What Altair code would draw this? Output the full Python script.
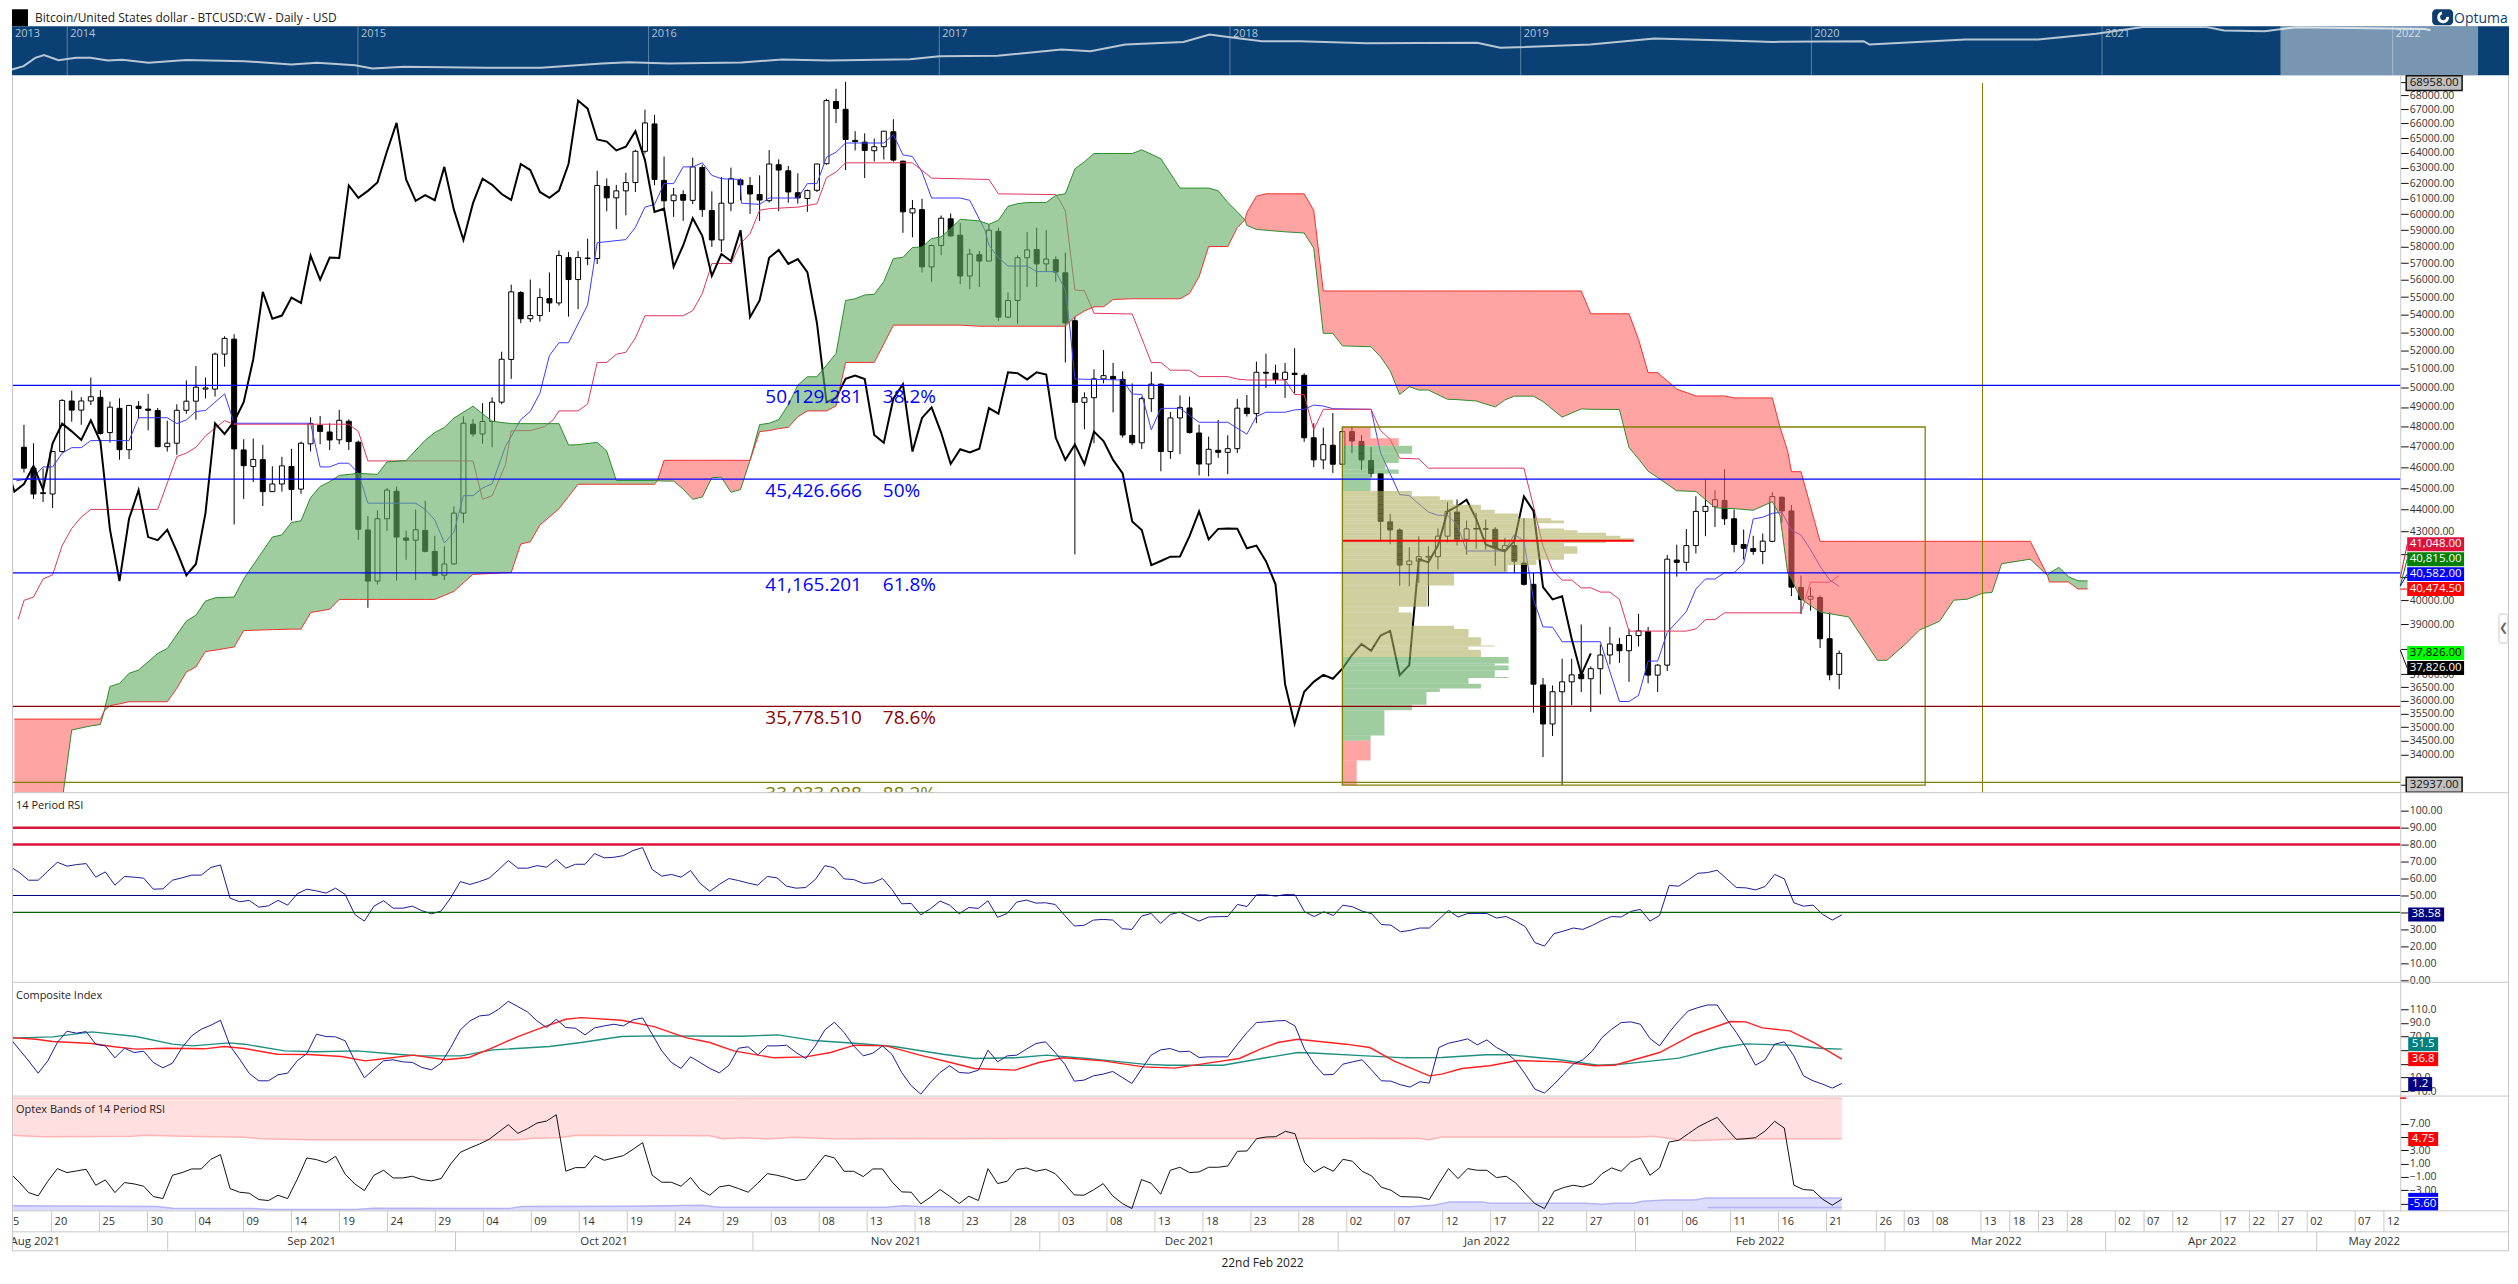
import altair as alt
import pandas as pd

FONT = "Open Sans"
ohlc_aug = [(46970,48090,45740,45950),(45950,47170,44490,44720),(44740,45930,44340,44780),(44720,46760,44060,46760),
(46760,49400,46700,49340),(49310,49850,48250,48840),(48840,49510,48090,49310),(49310,50540,49100,49530),
(49500,49880,47600,47660),(47700,49280,47200,48990),(48930,49450,46360,46850),(46850,49100,46390,49080),
(49040,49300,48420,48920),(48890,49680,47810,48830),(48820,48950,46970,47000),(47000,48300,46760,47170)]
ohlc_sep = [(47170,49140,46600,48830),(48830,50390,48650,49300),(49300,51150,48350,50030),(49930,50540,49440,49990),
(49930,51880,49540,51800),(51800,52780,51120,52660),(52620,52890,43310,46890),(46840,47370,44490,46070),
(46030,47400,45290,46370),(46360,47090,44160,44830),(44830,46040,44830,45190),(45190,46500,44830,46060),
(46030,46890,43490,44930),(44950,47250,44730,47170),(47140,48470,46760,48150),(48060,48540,47120,47760),
(47730,48170,46830,47330),(47340,48850,47120,48320),(48270,48370,46830,47250),(47220,47300,42620,43090),
(43060,43690,39680,40810),(40810,43960,40660,43570),(43570,45000,43020,44900),(44850,45070,40830,42740),
(42700,43030,41730,42600),(42600,44000,40850,43070),(43040,44400,42060,42100),(42100,42800,41020,41060),
(41060,42330,40850,41550),(41550,44140,41520,43830)]
ohlc_oct = [(43830,48520,43380,48170),(48120,48380,47500,47630),(47630,49200,47140,48260),(48260,49500,46970,49250),
(49250,51930,49140,51520),(51510,55720,50470,55300),(55260,55340,53510,53760),(53760,56020,53570,53940),
(53940,55500,53600,54970),(54910,56440,54150,54660),(54660,57760,54500,57450),(57330,57660,53880,56020),
(56020,57720,54310,57330),(57270,58480,56870,57300),(57270,62800,56940,61840),(61780,62300,60190,61040),
(61040,61880,59070,61490),(61490,62670,59930,62030),(62030,64200,61420,64100),(64100,66970,63940,66040),
(65970,66600,61860,62230),(62170,63750,60350,60850),(60860,61680,59830,61220),(61250,61530,59580,60890),
(60880,63670,60640,63060),(63020,63200,59830,60290),(60230,61460,57970,58400),(58400,62390,57670,60700),
(60700,63010,60190,62280),(62200,62300,60880,61880),(61840,62390,60020,61290)]
ohlc_nov = [(61250,62500,59580,60900),(60860,64180,60740,63250),(63200,63560,60190,62850),(62800,63120,60730,61420),
(61370,62640,60670,61040),(61000,61570,60150,61510),(61530,63270,61420,63250),(63270,67730,63210,67610),
(67540,68450,66030,67040),(66990,68958,62850,64900),(64840,65470,64160,64760),(64720,65320,62320,64160),
(64140,64960,63420,64410),(64410,65470,63550,65470),(65430,66300,63400,63510),(63440,63470,58840,60150),
(60080,60900,58560,60350),(60290,60980,56440,56770),(56770,58120,55890,58060),(58060,59920,57470,59750),
(59710,60050,58600,58650),(58690,59450,55750,56230),(56230,57860,55460,57540),(57500,57730,55580,57120),
(57120,59370,57120,59000),(58930,59150,53630,53850),(53850,55270,53790,54800),(54800,57460,53490,57320),
(57320,58890,55580,57790),(57810,59150,55580,56950)]
ohlc_dec = [(56950,59000,56460,57240),(57200,57400,55890,56460),(56420,57630,51350,53520),(53650,53870,41970,49240),
(49240,49760,47870,49480),(49480,50980,47170,50470),(50470,52020,50230,50640),(50600,51320,48720,50460),
(50440,50870,47450,47580),(47560,50230,47070,47190),(47190,49520,46890,49430),(49430,50850,48750,50190),
(50190,50230,45800,46760),(46760,48740,46400,48440),(48440,49600,46630,48980),(48950,49540,47650,47700),
(47680,48100,45600,46150),(46150,47500,45560,46870),(46820,48340,46450,46720),(46720,47570,45660,46900),
(46900,49420,46690,48940),(48940,49620,48510,48660),(48660,51390,48170,50820),(50820,51820,49980,50770),
(50770,51220,50200,50440),(50440,51320,49470,50820),(50770,52120,49700,50700),(50660,50770,47240,47440),
(47440,48170,46000,46350),(46350,47950,45900,47100),(47070,48690,45720,46140)]
ohlc_jan = [(46140,47970,46110,47750),(47750,48000,46670,47280),(47260,47580,45870,46350),(46320,46980,45500,45700),
(45690,45720,42520,43450),(43430,43800,42420,43060),(43060,43130,40610,41500),(41520,42290,40590,41680),
(41670,42780,40730,41870),(41850,42330,39740,41880),(41870,43130,41310,42780),(42780,44340,42500,43910),
(43880,44460,42360,42640),(42640,43490,41960,43110),(43100,43840,42210,43130),(43090,43530,42180,43120),
(43090,43190,41480,42240),(42180,42700,41230,42360),(42360,42780,41170,41670),(41590,43600,40620,40670),
(40670,41170,35540,36620),(36590,36860,33920,35120),(35120,36570,34680,36330),(36330,37610,32937,36710),
(36710,37610,35820,36980),(37010,38990,36320,36830),(36830,37310,35570,37220),(37220,38180,36230,37760),
(37760,38890,37390,38200),(38180,38450,37450,37930),(37930,38800,36710,38540)]
ohlc_feb = [(38540,39430,38100,38730),(38700,38890,36650,36970),(36970,37400,36320,37360),(37360,41950,37130,41760),
(41720,42400,41000,41620),(41620,43100,41250,42360),(42360,44610,42010,43910),(43910,45400,42780,44140),
(44140,44900,43200,44450),(44420,45900,43290,43570),(43570,44000,42060,42410),(42410,43080,41750,42240),
(42230,42800,41950,42100),(42100,42900,41540,42560),(42550,44800,42510,44600),(44570,44600,43380,43930),
(43930,44210,40170,40550),(40540,41050,39420,40030),(40040,40540,39560,40160),(40110,40200,38040,38410),
(38410,39500,36770,36980),(37000,37940,36430,37826)]

tenkan_bar = [-0.8,0.9,2,3,4,5,6,7,11,12,15,16,17,18,19,21,22,30,31,32,33,34,35,36,41,42,43,44,45,46,47,48,49,50.4,
52,53,54,55,56,57,59,60,63,64,65,66,67,68,69,70,71,72,73,75,75.1,77,78,81,82,83,84,85,86,90,91,92,93,94,95,98,99,
100.6,101,102,103,105,106,108,109,109.5,110,115,116,117,118,119,121,123,126,128,129,130,132,133,134,135,136,137,141,
142,144,145,147,148,149,150,151,155,156,157,158,159,160,161,165,167,168,169,170,171,172,173,174,175,176,177,178,179,
180,181,182,183,184,185,186,187,188,189,190]
tenkan_val = [45340,45480,46010,46010,46680,46950,46950,47300,47300,48450,48450,48150,48340,48770,48820,49680,48170,
48170,46010,46010,46190,46190,45710,44290,44290,44000,43520,42480,42950,44640,44640,45000,45200,47010,
48350,48770,49710,51720,52420,52420,54550,58230,58420,59180,60450,60620,61960,61960,63060,63060,63330,62500,62280,
62230,60700,60620,61030,61030,61960,61960,63700,64040,64660,64660,65230,63860,63750,62720,61030,61030,60880,
58990,58080,57330,56820,56820,56490,56490,55410,53130,50460,50410,49670,49650,47840,48930,48930,48220,48220,47620,
48510,48730,48730,48850,48880,49100,49050,48910,48880,46690,44690,44640,43880,43730,43730,43310,42120,42120,42860,
42560,40030,38890,38880,38290,38290,35960,35960,36190,37520,37520,38660,39090,39520,40470,40900,40900,41170,41170,
41570,43560,43640,43820,43870,43050,42830,42180,41450,40860,40582]
kijun_bar = [-0.6,0,1,2,3,4,5,6,7,14,15,16,17,18,19,20,21,22,34,35,36,47,48,49,50.4,51,53,54.5,55.4,56,58,59,60,61,62,
63,64,65,69,70,71,72,74,75,76,77,78,81,83,84,85,86,93,94,95,101,102,108,108.4,109,110,111,112,116,118,119,120,122,123,
126,127,128,132,133,134,135,136,141,142,143,144,146,147,157,158,159,160,161,162,163,164,165,166,167,168,174,175,176,
177,178,186,187,189,190]
kijun_val = [39200,39990,40130,40900,41080,42360,43130,43650,44000,44000,45240,46510,46680,46970,47530,47920,48300,
48120,48120,47760,46300,46300,44470,44640,46110,47790,47800,48000,48350,48800,48800,49150,51350,51350,51790,
51900,52680,53930,53930,54220,55200,56970,56970,58180,58790,60250,60350,60450,60660,62350,62720,63330,63330,62830,
62320,62230,61300,61250,60880,60210,55410,55370,54070,54030,51340,51340,50930,50930,50590,50590,50460,50410,50410,
49650,49630,47840,48880,48880,47800,47360,46430,46400,45950,45950,44150,42330,41280,40850,40850,40520,40520,40340,
40340,40030,38720,38720,38810,39190,39190,39470,39470,40760,40760,41048]

kumo_bar = [-1,4,5,7,8,8.4,9,10,11,12,14,15,16,17,18,19,20,22,23,26,27,28,29,30,31,32,33,35,37,38,40,42,43,44,45,47,49,51,52,53,54,56,57,58,60,61,62,66,66.3,
67,68,69,70,71,72,73,74,75,76,77,78,79,80,81,82,83,84,85,86,87,88,89,90,91,92,93,94,95,96,97,98,100,101,102,103,104,105,107,108,109,110,111,112,113,114,116,117,119,121,122,123,124,125,126,127,127.8,
128,129,130,132,134,135,136,137,138,141,142,143,144,145,146,147,149,150,152,154,155,156,158,159,161,163,164,167,168,169,170,171,173,175,177,178,179,181,183,183.8,184.6,185,186,188,191,194,195,197,198.4,200.5,202,203.4,205,206,207,210,211.8,
212,213,214,215,216]
span_a = [31000,32400,34900,35050,35100,35600,36530,36650,37040,37170,37820,38020,38570,39130,39370,39960,40100,40130,40900,42740,42840,43400,43480,44550,45070,45300,45600,45700,45650,46250,46320,47320,47700,47960,48430,49040,48270,48150,48150,48150,48150,48150,47080,47100,47210,46780,45360,45360,45350,
45330,45330,44950,44470,44580,45490,45520,44800,44930,46330,48100,48170,48350,49110,50130,50580,50580,51200,51830,54800,54900,55120,55160,55900,57270,57340,57940,57960,58480,58590,59100,59680,59580,59370,59620,60500,60670,60740,60740,61200,61300,62930,63400,63950,63950,63950,63950,64200,63600,61670,61670,61670,61670,61500,60750,60150,59650,
59300,59050,59000,58900,58830,57900,52940,52940,52250,52200,51650,50900,49650,50050,49880,49880,49400,49380,49310,49000,49360,49560,49560,49280,48480,48900,48880,48870,46960,46400,45800,45500,44870,44840,44080,44050,44040,43960,44360,43730,41180,40900,40050,39500,39300,37550,37550,38220,38760,39120,40000,40040,40290,40330,41560,41760,41050,
41150,41400,41000,40820,40815]
span_b = [35300,35300,35300,35300,35300,35600,35800,35870,35950,35950,35950,35950,36460,37090,37290,37900,37950,38080,38740,38780,38790,38800,38800,39480,39550,39620,40030,40030,40030,40030,40030,40030,40030,40200,40370,41100,41140,41180,42430,42530,43280,44030,44600,45180,45180,45180,45180,45180,45350,
46330,46330,46330,46330,46330,46330,46330,46330,46330,46330,47750,47800,47900,47960,48500,48800,48800,48800,49050,51350,51350,51350,51350,52350,53400,53400,53400,53400,53400,53400,53400,53400,53340,53340,53340,53340,53340,53340,53340,53340,53340,53870,54200,54440,54440,54860,54900,54900,54900,54900,55210,56190,58000,58000,58000,59160,59650,
60100,61150,61300,61300,61300,60250,55350,55350,55350,55350,55350,55350,55350,55350,55350,55350,55350,55350,55350,55350,55350,55350,55350,55350,55350,55350,54040,54040,54040,52600,50800,50800,49930,49570,49570,49570,49470,49470,49470,47970,46800,45780,45780,42550,42550,42550,42550,42550,42550,42550,42550,42550,42550,42550,42550,42550,41050,
40770,40770,40770,40470,40474.5]

vp_top = [47980,47420,47050,46650,46200,45890,45680,44860,44610,44450,44220,43980,43810,43590,43490,43360,43130,43050,42930,42800,42690,42590,42470,42330,42000,41930,41730,41510,41180,40620,40170,39720,39480,38940,38810,38470,38140,38100,37970,37680,37420,37350,37160,36900,36860,36640,36450,36320,35840,35630,34700,34510,33800]
vp_bot = [47420,47050,46650,46200,45890,45680,44860,44610,44450,44220,43980,43810,43590,43490,43360,43130,43050,42930,42800,42690,42590,42470,42330,42000,41930,41730,41510,41180,40620,40170,39720,39480,38940,38810,38470,38140,38100,37970,37680,37420,37350,37160,36900,36860,36640,36450,36320,35840,35630,34700,34510,33800,32937]
vp_vol = [2.95,5.9,7.3,5.9,4.5,5.9,2.95,7.28,10.2,11.6,14.5,15.95,18.4,21.85,23.2,20.3,23.2,24.6,27.6,29.1,30.5,27.6,23.2,24.6,23.2,23.2,20.3,17.3,11.7,8.85,8.85,5.9,7.28,11.7,13.2,14.5,15.95,13.2,14.5,17.4,15.95,17.4,15.95,17.4,13.2,14.5,10.2,8.8,7.3,4.4,2.95,2.95,1.5]
vp_kind = ["r"]*2 + ["g"]*5 + ["t"]*32 + ["g"]*12 + ["r"]*2

fib_price = [50129.281,45426.666,41165.201,35778.510,33033.088]
fib_value = ["50,129.281","45,426.666","41,165.201","35,778.510","33,033.088"]
fib_pct = ["38.2%","50%","61.8%","78.6%","88.2%"]
fib_color = ["#0000ff","#0000ff","#0000ff","#8b0000","#808000"]

rsi_values = [67.3,63.7,59.0,59.0,64.3,69.6,67.3,68.2,68.8,60.8,63.9,56.1,61.2,60.8,60.2,53.7,53.9,59.0,60.4,62.0,62.0,66.5,68.0,48.4,46.3,47.1,43.1,43.9,47.1,44.3,51.0,53.7,52.7,51.4,54.3,50.6,38.8,34.9,43.7,46.9,42.5,42.5,43.7,41.0,39.2,40.8,48.6,58.2,56.5,58.2,60.2,65.3,70.6,66.1,66.1,67.6,66.7,71.2,66.1,68.4,68.4,74.7,72.2,72.5,73.5,76.5,78.2,65.3,61.4,62.4,60.8,64.7,57.1,52.5,56.5,60.0,58.8,57.3,56.1,61.2,60.4,55.5,54.3,54.7,59.4,67.6,66.3,59.8,59.4,57.1,57.5,60.0,53.5,45.1,45.3,38.6,42.2,46.7,44.3,39.2,42.9,42.4,46.9,37.1,39.4,46.1,47.3,45.5,45.7,44.7,38.2,32.0,32.4,35.5,35.9,35.5,30.4,30.0,37.8,39.4,33.5,38.8,40.2,37.5,34.9,37.3,37.5,37.6,44.7,43.5,50.4,
50.4,49.6,50.6,50.4,40.4,37.6,40.4,38.2,44.3,43.3,40.8,39.2,32.9,32.5,28.6,29.4,30.8,30.8,35.9,41.2,37.3,39.4,39.4,39.4,36.7,37.6,34.9,31.6,22.2,20.2,27.5,29.0,30.8,30.0,32.4,35.3,37.6,37.3,40.6,41.8,34.9,38.2,55.9,55.5,59.2,63.1,63.5,64.9,59.8,54.7,54.5,53.3,55.3,62.4,59.8,45.7,43.7,44.3,38.8,35.5,38.58]
comp_values = [68.5,51.5,34.4,16.3,34.4,61.2,77.8,74.9,77.3,58.8,56.3,38.8,52.9,46.6,48.5,32.0,24.1,31.0,53.9,71.0,80.7,86.6,93.9,56.3,36.8,15.9,5.1,5.1,13.9,16.3,34.4,45.1,73.4,70.0,69.5,63.7,34.4,9.5,22.2,34.4,35.9,32.9,32.0,24.6,21.2,31.0,53.9,79.8,92.9,100.2,101.7,110,121.7,113.9,106.1,92.9,83.2,95.4,83.2,82.2,72.4,82.7,85.6,88.0,85.6,94.4,97.3,73.4,49.0,32.0,23.2,40.2,32.0,23.2,16.8,28.0,52.9,54.9,43.2,56.3,56.3,57.3,46.6,37.8,56.3,79.8,91.0,75.9,56.3,41.7,45.6,56.3,43.7,17.3,-2.2,-14.4,2.7,17.3,27.1,17.3,16.3,20.7,50.0,32.9,41.7,42.7,51.5,59.8,62.2,46.6,29.5,4.6,6.1,12.4,14.9,18.8,10.0,1.2,22.2,42.7,50.5,52.4,47.6,48.5,39.3,40.2,40.2,40.2,58.8,75.9,90.5,
91.5,92.9,93.4,85.6,51.5,29.5,13.9,14.4,29.5,32.9,35.9,20.7,5.1,4.6,-0.7,-4.1,3.7,1.7,53.9,60.2,63.2,66.6,57.8,65.1,53.9,46.6,34.4,14.9,-7.1,-12.9,0,14.9,29.5,35.9,49.0,68.5,80.7,90.5,91.5,88.0,67.1,56.3,75.9,92.9,107.6,112.4,116.3,116.3,95.4,75.9,53.9,28.0,35.9,58.8,62.2,41.7,12.4,5.1,0.2,-5.6,1.2]
fast_bar = [-0.9,1.8,3.5,7.6,9.7,12.2,15.2,19.3,21.4,23.5,26.9,30.2,33.6,36.1,38.2,41.1,44.4,46.9,49.4,52,54.5,57,58.6,62.8,66.2,69.5,72,74.5,78.7,82,84.6,87.1,90.4,93.8,97.1,99.6,103.8,106.3,108.8,113,117.2,120.5,123.9,127.2,129.5,131.2,133.3,138.3,140.8,143.3,147,148.3,150.4,153.3,156.2,160.8,164.2,166.3,168.8,171,174.6,178.4,180,181.7,184.6,187.1,190]
fast_val = [68.5,66.1,62.7,59.8,55.4,51.5,52.9,52,55.4,52.4,44.1,43.7,40.7,34.4,37.8,42.7,35.9,39.3,53.9,70,83.2,95.4,97.8,93.9,84.6,68.5,61.2,49,38.8,40.2,46.6,57.3,56.3,43.2,32,23.2,20.7,32,38.8,34.4,25.6,23.7,31,37.8,52.4,61.2,66.1,58.8,53.9,34.4,12.4,14.9,23.2,27.1,34.9,32.9,27.1,28,37.8,46.6,73.4,92,91.5,82.7,78.3,61.2,36.8]
slow_bar = [-0.9,3.5,7.6,12.2,16,18.1,21.9,23.5,27.7,31,35.2,39.4,41.9,46.1,49.4,55.3,58.6,62.8,66.2,75.4,79.1,82.9,87.1,91.2,96.3,99.6,103.8,107.1,111.3,117.2,119.7,125.5,129.5,133.3,135.3,140.4,144.5,148.3,152.9,155.4,160.4,164.6,167.1,173,177.5,180,184.6,188,190]
slow_val = [67.6,69.5,76.8,70,58.8,56.3,60.7,58.8,49,47.6,49,44.1,41.7,41.7,50.5,55.4,61.2,70,71,70.5,72.4,64.1,60.2,55.4,44.1,37.8,38.8,42.7,37.8,29.5,28,28,37.8,46.6,45.6,41.7,38.8,39.3,43.2,43.2,36.3,28,29.5,38.3,53.9,59.3,57.3,52.4,51.5]
optex_values = [-0.35,-1.75,-3.35,-3.85,-1.65,0.25,-0.35,-0.1,0.15,-2.25,-1.45,-3.35,-1.85,-2.05,-2.4,-3.95,-4.25,-0.75,-0.35,0.2,0.2,1.65,2.35,-2.75,-3.3,-3.45,-4.4,-4.55,-3.75,-4.25,-1.35,1.85,1.6,1.15,2.1,-0.6,-2.05,-3.05,-0.75,0,-1.15,-1.15,-0.9,-1.4,-1.6,-1.25,0.95,2.7,3.35,3.95,4.65,5.75,6.85,5.55,6.25,7.1,7.4,8.35,-0.15,0.4,0.4,2.2,1.5,1.85,2.2,3.15,4.15,-0.75,-1.8,-1.8,-2.4,-1.1,-2.9,-3.75,-2.5,-2.25,-2.75,-3.3,-1.95,-0.5,-0.75,-1.1,-1.55,-1.35,0.45,2.25,1.85,-0.15,-0.15,-0.95,0.2,0.2,-1.75,-3.25,-3.3,-5.05,-4.05,-2.9,-3.9,-5,-3.9,-4.55,0.25,-2,-1.65,0.1,0.35,-0.15,0.15,-0.5,-2.05,-3.7,-3.75,-2.95,-2,-3.85,-5,-5.75,-1.4,-1.95,-3.6,0,0.45,-0.35,-0.25,0.45,0.45,0.65,2.85,2.9,4.75,
5,5.05,5.85,5.5,1.15,-0.3,0.55,-0.15,1.65,1.35,-0.15,-0.85,-2.55,-3,-3.95,-4,-4.05,-4.4,-2,0.25,-1.25,0.25,0,0,-1.1,-0.9,-1.9,-3.5,-5,-5.75,-3.15,-2.6,-2.25,-2.5,-2,-0.5,0.35,-0.15,1.25,1.85,-0.75,0.35,4.25,4.5,5.5,6.5,7.25,7.95,6.25,4.65,4.75,4.9,5.9,7.35,6.35,-2.25,-2.9,-3,-4.35,-5.25,-4.35]
upper_bar = [-0.9,2.6,11.8,13.1,17.3,23.5,25.2,30.2,52,53.6,56.1,58.2,72,73.3,75.4,77.9,80.8,84.6,145.8,147,148.3,168.8,170.4,173,174.6,178.8,190]
upper_val = [5.25,5.05,5.1,5.25,5.1,4.95,4.75,4.6,4.6,4.8,4.9,5.25,5.2,4.75,4.9,4.7,4.95,4.75,4.8,4.6,5,5,5.1,4.6,4.45,4.7,4.75]
lower_bar = [-0.9,14.3,16,24.4,26,35.2,36.9,51.1,52.4,63.7,71.2,72.9,90.4,92.1,94.6,145,147.5,149.1,152.5,153.3,163.3,165,166.3,168.3,169.2,171.7,174.6,175.9,187.1,190]
lower_val = [-5.35,-5.45,-5.7,-5.75,-5.9,-5.9,-5.7,-5.75,-5.45,-5.4,-5.25,-5.55,-5.55,-5.35,-5.5,-5.5,-5.25,-4.75,-4.75,-4.95,-4.95,-5.1,-4.95,-4.95,-4.65,-4.45,-4.45,-4.15,-4.15,-4.15]

nav_year = [2013.81,13.85,13.89,13.92,13.97,14.03,14.08,14.14,14.19,14.28,14.41,14.61,14.77,14.86,14.99,15.05,15.16,15.44,15.63,15.84,15.93,16.07,16.32,16.46,16.62,16.9,17.0,17.2,17.42,17.52,17.64,17.84,17.93,18.0,18.11,18.24,18.47,18.85,18.93,19.24,19.46,19.71,19.87,20.18,20.2,20.53,20.78,20.98,21.14,21.36,21.42,21.56,21.67,22.11,22.13]
nav_year = [nav_year[0]] + [2000 + y for y in nav_year[1:]]
nav_price = [141,229,750,1100,540,750,750,520,567,366,540,465,291,366,263,164,207,180,180,335,404,335,390,591,520,620,955,1000,2470,1945,5030,7350,21000,14400,8120,8120,6100,6400,3130,5030,11900,8960,7350,8120,5030,10300,10300,23200,62800,62800,37500,33900,60000,47000,39100]
year_lines = [2014,2015,2016,2017,2018,2019,2020,2021,2022]
year_labels = ["2014","2015","2016","2017","2018","2019","2020","2021","2022"]

tick_bars = [-1.6,3.4,8.4,13.4,18.4,23.4,28.4,33.4,38.4,43.4,48.4,53.4,58.4,63.4,68.4,73.4,78.4,83.4,88.4,93.4,98.4,103.4,108.4,113.4,118.4,123.4,128.4,133.4,138.4,143.4,148.4,153.4,158.4,163.4,168.4,173.4,178.4,183.4,188.4,193.6,196.5,199.5,204.5,207.5,210.5,213.5,218.5,221.5,224.5,229.5,232.5,235.5,238.5,243.5,246.5]
tick_labels = ["15","20","25","30","04","09","14","19","24","29","04","09","14","19","24","29","03","08","13","18","23","28","03","08","13","18","23","28","02","07","12","17","22","27","01","06","11","16","21","26","03","08","13","18","23","28","02","07","12","17","22","27","02","07","12"]
month_seps = [15.5,45.5,76.5,106.4,137.5,168.5,194.5,217.5,239.5]
month_pos = [1.7,30.5,61,91.4,122,153,181.5,206.1,228.6,245.5]
month_labels = ["Aug 2021","Sep 2021","Oct 2021","Nov 2021","Dec 2021","Jan 2022","Feb 2022","Mar 2022","Apr 2022","May 2022"]

price_ticks = [68958,68000,67000,66000,65000,64000,63000,62000,61000,60000,59000,58000,57000,56000,55000,54000,53000,52000,51000,50000,49000,48000,47000,46000,45000,44000,43000,42000,41000,40000,39000,38000,37000,36500,36000,35500,35000,34500,34000,32937]
price_hidden = [68958,42000,41000,38000,32937]
rsi_ticks = [100,90,80,70,60,50,40,30,20,10,0]
rsi_hidden = [40]
comp_ticks = [110,90,70,50,30,10,-10]
comp_hidden = [50,30]
optex_ticks = [7,5,3,1,-1,-3,-5]
optex_hidden = [5,-5]

# ---------- layout ----------
W, FULL = 2393, 2502
H_HEAD, H_NAV, H_MAIN, H_RSI, H_COMP, H_OPT, H_TICK, H_MON, H_DATE = 17, 49, 719, 190, 114, 115, 21, 19, 20
GRAY = "#c8c8c8"
one = pd.DataFrame({"k": [0]})
xs = alt.Scale(domain=[-0.73, 248.2], nice=False, zero=False)
X = alt.X("n:Q", scale=xs, axis=None)

def vrect(x0, x1, y0, y1, **kw):
    return alt.Chart(one).mark_rect(**kw).encode(x=alt.value(x0), x2=alt.value(x1), y=alt.value(y0), y2=alt.value(y1))
def vtext(s, x, y, size=11, color="#222222", align="left", **kw):
    return alt.Chart(one).mark_text(text=s, font=FONT, fontSize=size, color=color, align=align, baseline="middle", **kw).encode(x=alt.value(x), y=alt.value(y))
def vline(x0, y0, x1, y1, color=GRAY, w=1.0):
    return alt.Chart(one).mark_rule(color=color, strokeWidth=w).encode(x=alt.value(x0), x2=alt.value(x1), y=alt.value(y0), y2=alt.value(y1))
def tag(s, yc, x0, x1, bg, fg="white", h=14, stroke=None):
    kw = {"fill": bg}
    if stroke:
        kw.update(stroke=stroke, strokeWidth=1.5)
    return [vrect(x0, x1, yc - h / 2, yc + h / 2, **kw), vtext(s, (x0 + x1) / 2, yc, color=fg, align="center", size=11.5)]
def frame(h, bottom=True):
    out = [vline(0.5, 0, 0.5, h), vline(FULL - 0.5, 0, FULL - 0.5, h)]
    if bottom:
        out.append(vline(0, h, FULL, h))
    return out
def right_axis(values, fmt, hidden):
    # ticks stay; labels that sit fully behind the value tags are left blank
    expr = "indexof(" + str(hidden) + ", datum.value) >= 0 ? '' : datum.label"
    return alt.Axis(orient="right", values=values, format=fmt, title=None, grid=False, tickSize=8, tickColor="#111111",
                    tickWidth=1, domainColor=GRAY, labelFont=FONT, labelFontSize=10.5, labelColor="#333333", labelPadding=1,
                    labelOverlap=False, labelFlush=False, labelExpr=expr)

# ---------- candles ----------
rows = ohlc_aug + ohlc_sep + ohlc_oct + ohlc_nov + ohlc_dec + ohlc_jan + ohlc_feb
candles = pd.DataFrame(rows, columns=["o", "h", "l", "c"])
candles["n"] = range(len(candles))
candles["top"] = candles[["o", "c"]].max(axis=1)
candles["bot"] = candles[["o", "c"]].min(axis=1)
bull = candles[candles.c >= candles.o]
bear = candles[candles.c < candles.o]
chikou = pd.DataFrame({"n": candles.n - 26, "p": candles.c})

ys = alt.Scale(type="log", domain=[32674, 69441], nice=False)
AX_MAIN = right_axis(price_ticks, ".2f", price_hidden)
def YM(f):
    return alt.Y(f, scale=ys, axis=AX_MAIN, title=None)
Y = YM("p:Q")

def pline(bars, vals, color, w):
    df = pd.DataFrame({"n": bars, "p": vals})
    return alt.Chart(df).mark_line(color=color, strokeWidth=w, clip=True).encode(x=X, y=Y)

wicks = alt.Chart(candles).mark_rule(color="black", strokeWidth=1, clip=True).encode(x=X, y=YM("l:Q"), y2="h:Q")
def bodies(df, fill):
    return alt.Chart(df).mark_bar(orient="vertical", size=5, fill=fill, stroke="black", strokeWidth=1, clip=True).encode(
        x=X, y=YM("top:Q"), y2="bot:Q")

kumo = pd.DataFrame({"n": kumo_bar, "a": span_a, "b": span_b})
# split the cloud where the two spans cross (rows with a == b belong to both sides)
segments = []
cur, sign = [], None
for i, r in kumo.iterrows():
    s = 0 if r.a == r.b else (1 if r.a > r.b else -1)
    if s != 0 and sign is not None and s != sign:
        segments.append((sign, pd.DataFrame(cur)))
        cur = [kumo.iloc[i - 1].to_dict()] if kumo.a[i - 1] == kumo.b[i - 1] else []
    if s != 0:
        sign = s
    cur.append(r.to_dict())
segments.append((sign, pd.DataFrame(cur)))
def cloud(df, s):
    fill, alpha = ("rgb(100,174,100)", 0.616) if s > 0 else ("rgb(255,102,102)", 0.6)
    return alt.Chart(df).mark_area(fill=fill, opacity=alpha, clip=True).encode(x=X, y=YM("a:Q"), y2="b:Q")
cloud_layers = [cloud(d, s) for s, d in segments]

vp = pd.DataFrame({"t": vp_top, "b": vp_bot, "x0": 138.0, "x1": [138 + v for v in vp_vol], "kind": vp_kind})
vp_layer = alt.Chart(vp).mark_rect(strokeWidth=0, clip=True).encode(
    x=alt.X("x0:Q", scale=xs, axis=None), x2="x1:Q",
    y=YM("t:Q"), y2="b:Q",
    color=alt.Color("kind:N", legend=None, scale=alt.Scale(domain=["g", "r", "t"],
        range=["rgba(100,174,100,0.616)", "rgba(255,102,102,0.6)", "rgba(177,175,97,0.6)"])))
poc = alt.Chart(pd.DataFrame({"n": [138], "n2": [168.5], "p": [42580]})).mark_rule(color="#ff0000", strokeWidth=2, clip=True).encode(
    x=X, x2="n2:Q", y=Y)
box = alt.Chart(pd.DataFrame({"n": [138], "n2": [199], "t": [47980], "b": [32937]})).mark_rect(
    fillOpacity=0, stroke="#808000", strokeWidth=1.3, clip=True).encode(
    x=X, x2="n2:Q", y=YM("t:Q"), y2="b:Q")
vert = alt.Chart(pd.DataFrame({"n": [205]})).mark_rule(color="#808000", strokeWidth=1).encode(
    x=X, y=alt.value(8), y2=alt.value(H_MAIN))
fib = pd.DataFrame({"p": fib_price, "v": fib_value, "q": fib_pct, "col": fib_color})
fib_rules = alt.Chart(fib).mark_rule(strokeWidth=1.2).encode(y=Y, color=alt.Color("col:N", scale=None))
fib_t1 = alt.Chart(fib.assign(n=77.6)).mark_text(font=FONT, fontSize=19, align="left", dy=12, baseline="middle", clip=True).encode(
    x=X, y=Y, text="v:N", color=alt.Color("col:N", scale=None))
fib_t2 = alt.Chart(fib.assign(n=89.9)).mark_text(font=FONT, fontSize=19, align="left", dy=12, baseline="middle", clip=True).encode(
    x=X, y=Y, text="q:N", color=alt.Color("col:N", scale=None))

MX0, MX1 = 2400, 2457
main_layers = [
    wicks, bodies(bull, "white"), bodies(bear, "black"),
    pline(tenkan_bar, tenkan_val, "#3a3aff", 1),
    pline(kijun_bar, kijun_val, "#e0355f", 1),
    alt.Chart(chikou).mark_line(color="black", strokeWidth=2, clip=True).encode(x=X, y=Y),
    *cloud_layers,
    pline(kumo_bar, span_a, "#2e8b2e", 1),
    pline(kumo_bar, span_b, "#f03030", 1),
    vp_layer, poc, box, vert, fib_rules, fib_t1, fib_t2,
    vline(2393, 504, 2400, 470, "#dc143c"), vline(2393, 512, 2400, 485, "#008000"),
    vline(2393, 512, 2400, 500, "#0000ff"), vline(2393, 515, 2400, 515, "#ff0000"),
    vline(2393, 576, 2400, 594, "#111111"),
]
main_layers += tag("68958.00", 8, 2399, 2455, "#c0c0c0", "#111111", 15, "#111111")
main_layers += tag("32937.00", 711, 2399, 2455, "#c0c0c0", "#111111", 15, "#111111")
main_layers += tag("41,048.00", 470, MX0, MX1, "#dc143c")
main_layers += tag("40,815.00", 485, MX0, MX1, "#008000")
main_layers += tag("40,582.00", 500, MX0, MX1, "#0000ff")
main_layers += tag("40,474.50", 515, MX0, MX1, "#ff0000")
main_layers += tag("37,826.00", 579, MX0, MX1, "#00ff00", "#000000")
main_layers += tag("37,826.00", 594, MX0, MX1, "#000000")
main_layers += [vrect(2492, 2501, 540, 569, fill="white", stroke=GRAY, strokeWidth=1, cornerRadius=2),
                vtext("\u276e", 2496.5, 554, size=11, color="#666666", align="center")]
main_layers += frame(H_MAIN)
main = alt.layer(*main_layers).properties(width=W, height=H_MAIN)

# ---------- RSI ----------
def series(values, end=190):
    return pd.DataFrame({"n": [end - len(values) + 1 + i for i in range(len(values))], "p": values})
yr = alt.Scale(domain=[-1.2, 110.6], nice=False, zero=False)
AX_RSI = right_axis(rsi_ticks, ".2f", rsi_hidden)
YR = alt.Y("p:Q", scale=yr, axis=AX_RSI, title=None)
def hline(v, color, w):
    return alt.Chart(pd.DataFrame({"p": [v]})).mark_rule(color=color, strokeWidth=w).encode(y=YR)
rsi_layers = [
    alt.Chart(series(rsi_values)).mark_line(color="#1c1c96", strokeWidth=1, clip=True).encode(x=X, y=YR),
    hline(90, "#dc143c", 2.5), hline(80, "#dc143c", 2.5), hline(50, "#000080", 1.2), hline(40, "#006400", 1.2),
    vtext("14 Period RSI", 4, 13),
]
rsi_layers += tag("38.58", 122, 2401, 2437, "#000080")
rsi_layers += frame(H_RSI)
rsi = alt.layer(*rsi_layers).properties(width=W, height=H_RSI)

# ---------- Composite ----------
yc = alt.Scale(domain=[-17.3, 149.5], nice=False, zero=False)
AX_COMP = right_axis(comp_ticks, ".1f", comp_hidden)
def cline(df, color, w):
    return alt.Chart(df).mark_line(color=color, strokeWidth=w, clip=True).encode(
        x=X, y=alt.Y("p:Q", scale=yc, axis=AX_COMP, title=None))
comp_layers = [
    cline(pd.DataFrame({"n": slow_bar, "p": slow_val}), "#1f8f80", 1.4),
    cline(pd.DataFrame({"n": fast_bar, "p": fast_val}), "#ff2020", 1.4),
    cline(series(comp_values), "#1c1c96", 1),
    vtext("Composite Index", 4, 14),
]
comp_layers += tag("51.5", 62, 2401, 2431, "#008080")
comp_layers += tag("36.8", 77, 2401, 2431, "#ff0000")
comp_layers += tag("1.2", 102, 2401, 2425, "#000080")
comp_layers += frame(H_COMP)
comp = alt.layer(*comp_layers).properties(width=W, height=H_COMP)

# ---------- Optex ----------
yo = alt.Scale(domain=[-6.1, 11.15], nice=False, zero=False)
upper = pd.DataFrame({"n": upper_bar, "p": upper_val, "t": 10.85})
lower = pd.DataFrame({"n": lower_bar, "p": lower_val, "t": -6.1})
AX_OPT = right_axis(optex_ticks, ".2f", optex_hidden)
YO = alt.Y("p:Q", scale=yo, axis=AX_OPT, title=None)
opt_layers = [
    alt.Chart(upper).mark_area(fill="#ffdfdf", clip=True).encode(x=X, y=YO, y2="t:Q"),
    alt.Chart(lower).mark_area(fill="#dcdcfc", clip=True).encode(x=X, y=YO, y2="t:Q"),
    alt.Chart(upper).mark_line(color="#ffb4b4", strokeWidth=1.5, clip=True).encode(x=X, y=YO),
    alt.Chart(upper.assign(p=10.85)).mark_line(color="#ffb4b4", strokeWidth=1, clip=True).encode(x=X, y=YO),
    alt.Chart(lower).mark_line(color="#b4b4f4", strokeWidth=1.5, clip=True).encode(x=X, y=YO),
    alt.Chart(pd.DataFrame({"n": [176, 190], "p": [-5.6, -5.6]})).mark_line(color="#b4b4f4", strokeWidth=1.5, clip=True).encode(x=X, y=YO),
    alt.Chart(series(optex_values)).mark_line(color="#111111", strokeWidth=1, clip=True).encode(x=X, y=YO),
    vtext("Optex Bands of 14 Period RSI", 4, 14),
    vline(2393, 2, 2399, 2, "#ff0000", 1.5),
]
opt_layers += tag("4.75", 43, 2401, 2431, "#ff0000")
opt_layers += [vrect(2401, 2431, 97, 101, fill="#0000ff")]
opt_layers += tag("-5.60", 108.5, 2401, 2431, "#0000ff", "white", 13)
opt_layers += frame(H_OPT)
opt = alt.layer(*opt_layers).properties(width=W, height=H_OPT)

# ---------- date rows ----------
ticks_df = pd.DataFrame({"n": tick_bars, "t": tick_labels})
tick_row = alt.layer(
    alt.Chart(ticks_df).mark_rule(color=GRAY, strokeWidth=1, clip=True).encode(x=X, y=alt.value(0), y2=alt.value(H_TICK)),
    alt.Chart(ticks_df).mark_text(font=FONT, fontSize=11, align="left", dx=3, color="#333333", clip=True).encode(
        x=X, y=alt.value(11), text="t:N"),
    *frame(H_TICK)
).properties(width=W, height=H_TICK)
month_row = alt.layer(
    alt.Chart(pd.DataFrame({"n": month_seps})).mark_rule(color=GRAY, strokeWidth=1, clip=True).encode(x=X, y=alt.value(0), y2=alt.value(H_MON)),
    alt.Chart(pd.DataFrame({"n": month_pos, "t": month_labels})).mark_text(font=FONT, fontSize=11.5, color="#333333", clip=True).encode(
        x=X, y=alt.value(10), text="t:N"),
    *frame(H_MON)
).properties(width=W, height=H_MON)
date_row = alt.layer(vtext("22nd Feb 2022", 1253, 12, size=12, align="center")).properties(width=W, height=H_DATE)

# ---------- header & navigator ----------
head = alt.layer(
    vrect(0, 16, 0, 17, fill="#000000"),
    vtext("Bitcoin/United States dollar - BTCUSD:CW - Daily - USD", 23, 8.5, size=12),
    vrect(2425, 2446, 0, 16, fill="#0f3d6e", cornerRadius=4),
    alt.Chart(one).mark_arc(innerRadius=3, outerRadius=6, theta=1.5, theta2=6.0, fill="white").encode(x=alt.value(2436), y=alt.value(8)),
    vtext("Optuma", 2447, 9.6, size=14, color="#0f3d6e"),
).properties(width=FULL, height=H_HEAD)

xn = alt.Scale(domain=[2013.81, 2022.40], nice=False, zero=False)
yn = alt.Scale(type="log", domain=[63, 69200], nice=False)
XN = alt.X("n:Q", scale=xn, axis=None)
yl = pd.DataFrame({"n": year_lines, "t": year_labels})
nav = alt.layer(
    vrect(0, FULL, 0, H_NAV, fill="#0a4073"),
    alt.Chart(yl).mark_rule(color="rgba(255,255,255,0.35)", strokeWidth=1).encode(x=XN, y=alt.value(0), y2=alt.value(H_NAV)),
    alt.Chart(yl).mark_text(font=FONT, fontSize=11, align="left", dx=3, color="#b4c6d8").encode(x=XN, y=alt.value(8), text="t:N"),
    vtext("2013", 3, 8, color="#b4c6d8"),
    alt.Chart(pd.DataFrame({"n": nav_year, "p": nav_price})).mark_line(color="#b8c7d6", strokeWidth=2).encode(
        x=XN, y=alt.Y("p:Q", scale=yn, axis=None, title=None)),
    vrect(2273, 2471, 0, H_NAV, fill="white", opacity=0.45),
).properties(width=FULL, height=H_NAV)

chart = alt.vconcat(head, nav, main, rsi, comp, opt, tick_row, month_row, date_row).properties(
    spacing=0, bounds="flush", padding=0, background="white"
).resolve_scale(x="independent", y="independent").configure_view(strokeWidth=0)

chart.save("out.html", embed_options={"renderer": "svg", "actions": False})
